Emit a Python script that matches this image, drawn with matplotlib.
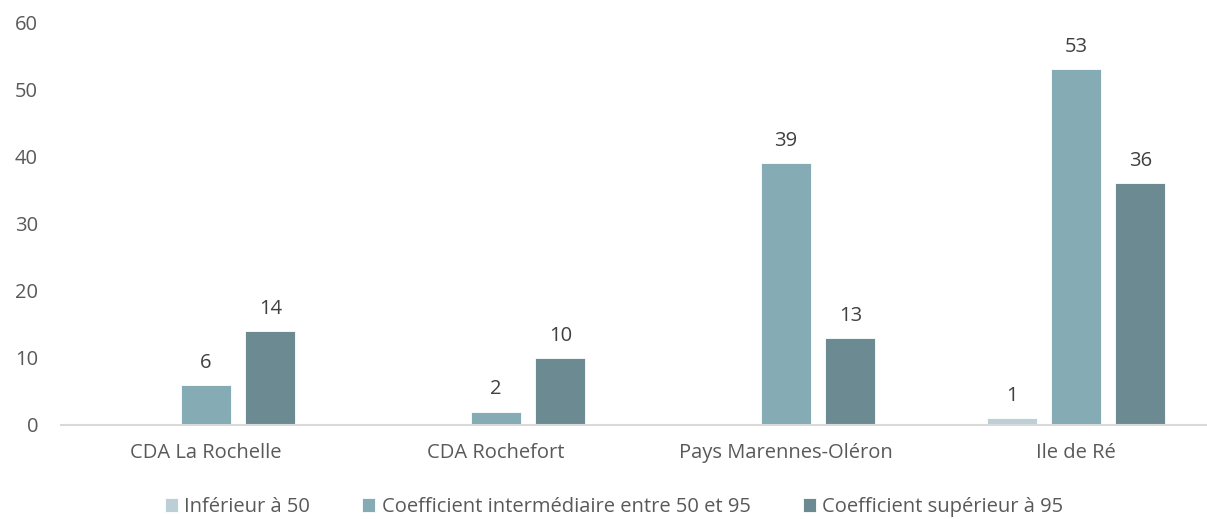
import numpy as np
import matplotlib.pyplot as plt

plt.rcParams['font.family'] = ['Open Sans', 'DejaVu Sans']

categories = ["CDA La Rochelle", "CDA Rochefort", "Pays Marennes-Oléron", "Ile de Ré"]
series_names = ["Inférieur à 50",
                "Coefficient intermédiaire entre 50 et 95",
                "Coefficient supérieur à 95"]
inferieur_50 = [np.nan, np.nan, np.nan, 1]
intermediaire = [6, 2, 39, 53]
superieur_95 = [14, 10, 13, 36]
colors = ["#BCCFD6", "#85ABB5", "#6B8A92"]

text_col = "#595959"

fig = plt.figure(figsize=(12.07, 5.19), dpi=100)
ax = fig.add_axes([61 / 1207, 1 - 425 / 519, (1207 - 61) / 1207, (425 - 22) / 519])

x = np.arange(len(categories))
width = 0.172
step = 0.222
for i, (vals, name) in enumerate(zip([inferieur_50, intermediaire, superieur_95], series_names)):
    pos = x + (i - 1) * step
    ax.bar(pos, vals, width, color=colors[i], label=name,
           edgecolor="white", linewidth=0.6)
    for p, v in zip(pos, vals):
        if not np.isnan(v):
            ax.text(p, v + 1.8, f"{v:g}", ha="center", va="bottom",
                    fontsize=14.5, color="#404040")

ax.set_xlim(-0.5, (1207 - 206) / 290)
ax.set_ylim(0, 60)
ax.set_yticks(range(0, 61, 10))
ax.set_xticks(x)
ax.set_xticklabels(categories)
ax.tick_params(axis="both", length=0, labelsize=14.5, colors=text_col)
ax.tick_params(axis="x", pad=13)
ax.tick_params(axis="y", pad=16.5)
for s in ["top", "right", "left"]:
    ax.spines[s].set_visible(False)
ax.spines["bottom"].set_color("#D9D9D9")
ax.spines["bottom"].set_linewidth(1.5)

leg = fig.legend(loc="center", bbox_to_anchor=(614 / 1207, 1 - 507 / 519), ncol=3,
                 frameon=False, fontsize=14.5, handlelength=0.65, handleheight=0.65,
                 handletextpad=0.3, columnspacing=2.6)
for t in leg.get_texts():
    t.set_color(text_col)

fig.savefig("out.png", dpi=100)
